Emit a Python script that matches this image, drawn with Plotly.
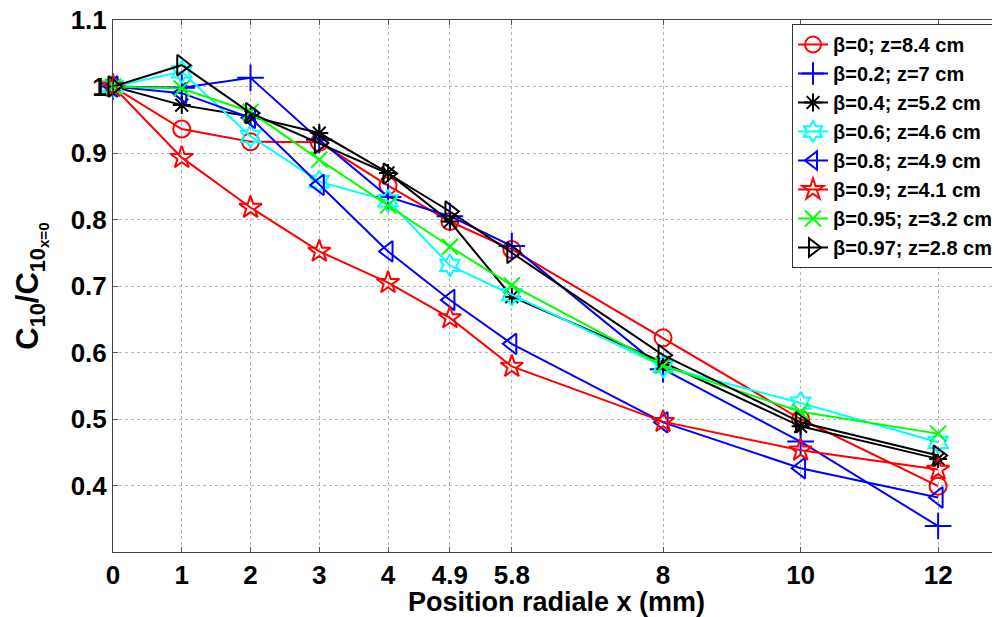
import plotly.graph_objects as go

x_pos = [0, 1, 2, 3, 4, 4.9, 5.8, 8, 10, 12]
x_ticks = [0, 1, 2, 3, 4, 4.9, 5.8, 8, 10, 12]
x_tick_labels = ["0", "1", "2", "3", "4", "4.9", "5.8", "8", "10", "12"]
y_ticks = [0.4, 0.5, 0.6, 0.7, 0.8, 0.9, 1.0, 1.1]
y_tick_labels = ["0.4", "0.5", "0.6", "0.7", "0.8", "0.9", "1", "1.1"]

names = [
    "β=0; z=8.4 cm",
    "β=0.2; z=7 cm",
    "β=0.4; z=5.2 cm",
    "β=0.6; z=4.6 cm",
    "β=0.8; z=4.9 cm",
    "β=0.9; z=4.1 cm",
    "β=0.95; z=3.2 cm",
    "β=0.97; z=2.8 cm",
]

y_b000 = [1.0, 0.936, 0.917, 0.916, 0.851, 0.797, 0.755, 0.622, 0.500, 0.399]
y_b020 = [1.0, 0.998, 1.013, 0.920, 0.834, 0.805, 0.760, 0.575, 0.466, 0.339]
y_b040 = [1.0, 0.972, 0.955, 0.930, 0.870, 0.797, 0.684, 0.585, 0.489, 0.440]
y_b060 = [1.0, 1.022, 0.925, 0.857, 0.828, 0.731, 0.687, 0.579, 0.524, 0.465]
y_b080 = [1.0, 0.990, 0.953, 0.852, 0.752, 0.679, 0.613, 0.495, 0.426, 0.382]
y_b090 = [1.0, 0.893, 0.818, 0.752, 0.705, 0.652, 0.579, 0.496, 0.453, 0.424]
y_b095 = [1.0, 0.997, 0.962, 0.890, 0.821, 0.759, 0.701, 0.580, 0.511, 0.478]
y_b097 = [1.0, 1.032, 0.960, 0.915, 0.869, 0.812, 0.750, 0.596, 0.495, 0.445]

series = [y_b000, y_b020, y_b040, y_b060, y_b080, y_b090, y_b095, y_b097]
colors = ["#FF0000", "#0000FF", "#000000", "#00FFFF", "#0000FF", "#FF0000", "#00FF00", "#000000"]
symbols = ["circle-open", "cross-thin-open", "asterisk-open", "hexagram-open",
           "triangle-left-open", "star-open", "x-thin-open", "triangle-right-open"]
sizes = [17, 19, 15, 17, 18, 17, 16, 18]

fig = go.Figure()
for nm, ys, c, s, sz in zip(names, series, colors, symbols, sizes):
    fig.add_trace(go.Scatter(
        x=x_pos, y=ys, name=nm, mode="lines+markers",
        line=dict(color=c, width=2),
        marker=dict(symbol=s, size=sz, color=c, line=dict(color=c, width=2)),
        cliponaxis=False,
    ))

FONT = "Liberation Sans, Arial, sans-serif"
tick_font = dict(family=FONT, size=26, color="black", weight="bold")

fig.update_layout(
    width=992, height=609,
    margin=dict(l=105, r=0, t=12, b=65, autoexpand=False),
    paper_bgcolor="white", plot_bgcolor="white",
    showlegend=True,
    legend=dict(
        x=0.7655, y=0.9925, xanchor="left", yanchor="top",
        bgcolor="white", bordercolor="#333333", borderwidth=1,
        font=dict(family=FONT, size=20, color="black", weight="bold"),
        itemwidth=30, tracegroupgap=0,
    ),
    xaxis=dict(
        range=[0, 12.9], tickmode="array", tickvals=x_ticks, ticktext=x_tick_labels,
        showgrid=True, gridcolor="#b4b4b4", griddash="dot", gridwidth=1,
        showline=True, linecolor="#444444", linewidth=1, mirror="ticks",
        ticks="inside", ticklen=5, tickcolor="#555555",
        tickfont=tick_font, zeroline=False, ticklabelstandoff=0,
        ticklabeloverflow="allow",
        title=dict(text="Position radiale x (mm)",
                   font=dict(family=FONT, size=27, color="black", weight="bold"), standoff=12),
    ),
    yaxis=dict(
        range=[0.3, 1.1], tickmode="array", tickvals=y_ticks, ticktext=y_tick_labels,
        showgrid=True, gridcolor="#b4b4b4", griddash="dot", gridwidth=1,
        showline=True, linecolor="#444444", linewidth=1, mirror="ticks",
        ticks="inside", ticklen=5, tickcolor="#555555",
        tickfont=tick_font, zeroline=False, ticklabeloverflow="allow",
        title=dict(text="C<sub>10</sub>/C<sub>10<sub>x=0</sub></sub>",
                   font=dict(family=FONT, size=31, color="black", weight="bold"), standoff=22),
    ),
)

fig.write_html("out.html")
